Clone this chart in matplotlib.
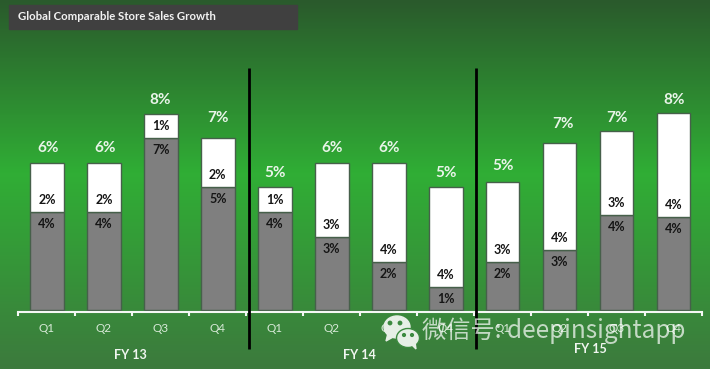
import numpy as np
import matplotlib
matplotlib.use('Agg')
import matplotlib.pyplot as plt
from matplotlib.colors import LinearSegmentedColormap
from matplotlib.patches import Ellipse, Polygon, Rectangle

plt.rcParams['font.family'] = ['Lato', 'DejaVu Sans']

QUARTERS = ['Q1', 'Q2', 'Q3', 'Q4'] * 3
YEARS = ['FY 13', 'FY 14', 'FY 15']

# bar heights in percent points
GREY_VALUES = [3.98, 3.98, 7.0, 5.0, 3.98, 2.97, 1.95, 0.96, 1.95, 2.45, 3.87, 3.78]
TOTAL_VALUES = [6.0, 6.0, 8.0, 7.0, 5.0, 6.0, 6.0, 5.0, 5.2, 6.8, 7.3, 8.0]

GREY_LABELS = ['4%', '4%', '7%', '5%', '4%', '3%', '2%', '1%', '2%', '3%', '4%', '4%']
WHITE_LABELS = ['2%', '2%', '1%', '2%', '1%', '3%', '4%', '4%', '3%', '4%', '3%', '4%']
TOTAL_LABELS = ['6%', '6%', '8%', '7%', '5%', '6%', '6%', '5%', '5%', '7%', '7%', '8%']

PX_PER_BAR = 56.98
PX_PER_PCT = 24.6
LEFT_PX = 46.9
BASE_PX = 310.3
W, H = 710, 369

fig = plt.figure(figsize=(W / 100, H / 100), dpi=100)
ax = fig.add_axes([0, 0, 1, 1])

cmap = LinearSegmentedColormap.from_list(
    'bg', [(0, '#2a5a2c'), (0.47, '#30ae35'), (1, '#3c7a3d')])
ax.imshow(np.linspace(0, 1, 369).reshape(-1, 1), cmap=cmap, aspect='auto',
          extent=(0, 1, 0, 1), transform=ax.transAxes, zorder=0)

x = np.arange(12)
grey = np.array(GREY_VALUES)
white = np.array(TOTAL_VALUES) - grey

ax.bar(x, grey, width=0.588, color='#7f7f7f', edgecolor='#46604a', linewidth=1, zorder=2)
ax.bar(x, white, bottom=grey, width=0.588, color='white', edgecolor='#46604a', linewidth=1, zorder=2)

total_offsets = [15, 15, 14, 20, 14, 15, 15, 14, 16, 19, 13, 14]
total_shift = [1, 1, -1, 0, 0, 0, 0, 0, 0, 3, 0, 0]
for i in x:
    ax.annotate(GREY_LABELS[i], (i, grey[i]), xytext=(0, -12 * 0.72), textcoords='offset points',
                ha='center', va='center', fontsize=9, fontweight='bold', color='#151515', zorder=3)
    ax.annotate(WHITE_LABELS[i], (i, grey[i]), xytext=(0, 12 * 0.72), textcoords='offset points',
                ha='center', va='center', fontsize=9, fontweight='bold', color='#151515', zorder=3)
    ax.annotate(TOTAL_LABELS[i], (i, TOTAL_VALUES[i]),
                xytext=(total_shift[i] * 0.72, total_offsets[i] * 0.72), textcoords='offset points',
                ha='center', va='center', fontsize=11, fontweight='bold', color='#e9f4e9', zorder=3)

ax.set_xlim(-LEFT_PX / PX_PER_BAR, (W - LEFT_PX) / PX_PER_BAR)
ax.set_ylim(-(H - BASE_PX) / PX_PER_PCT, BASE_PX / PX_PER_PCT)

# the axis sits inside the full figure axes
for side in ['top', 'left', 'right']:
    ax.spines[side].set_visible(False)
ax.spines['bottom'].set_position(('data', -0.05))
ax.spines['bottom'].set_bounds(-0.5, 11.5)
ax.spines['bottom'].set_color('#f4f8f4')
ax.spines['bottom'].set_linewidth(1.5)
ax.spines['bottom'].set_zorder(3)
ax.set_yticks([])
ax.set_xticks(x)
ax.set_xticklabels(QUARTERS, fontsize=8.5, color='#d8ead8')
ax.tick_params(axis='x', which='major', length=0, pad=8.5)
ax.set_xticks(np.arange(-0.5, 12), minor=True)
ax.tick_params(axis='x', which='minor', length=3, width=1.5, color='#f4f8f4', direction='out')

ax.vlines([3.555, 7.53], -1.57, 9.85, color='black', linewidth=2, zorder=4)

for label, pos, level in zip(YEARS, [1.47, 5.49, 9.53], [-1.81, -1.81, -1.57]):
    ax.text(pos, level, label, ha='center', va='center', fontsize=9,
            fontweight='bold', color='#f0f6f0', zorder=5)

# title box and watermark in pixel coordinates
top = fig.add_axes([0, 0, 1, 1], facecolor='none')
top.set_xlim(0, W)
top.set_ylim(H, 0)
top.axis('off')

top.add_patch(Rectangle((9, 5), 288, 24, color='#404040'))
top.text(18, 17, 'Global Comparable Store Sales Growth', ha='left', va='center',
         fontsize=8.2, fontweight='bold', color='#f2f2f2')

mark = '#e6efe6'
top.add_patch(Ellipse((397, 327), 26, 22, color=mark, zorder=6))
top.add_patch(Polygon([(388, 333), (386, 341), (395, 336)], color=mark, zorder=6))
top.add_patch(Ellipse((408, 338), 23, 19, facecolor=mark, edgecolor='#3c8a40', linewidth=1, zorder=7))
top.add_patch(Polygon([(412, 345), (416, 349), (415, 342)], color=mark, zorder=7))
for ex, ey, size in [(390, 323, 3.4), (400, 323, 3.4), (404, 335, 2.8), (412, 335, 2.8)]:
    top.add_patch(Ellipse((ex, ey), size, size, color='#3c8a40', zorder=8))

top.text(422, 331, '微信号: deepinsightapp', ha='left', va='center', fontsize=17.5, fontweight='light',
         family=['Noto Sans CJK SC', 'DejaVu Sans'], color='white', alpha=0.7, zorder=6)

fig.savefig('out.png', dpi=100)
